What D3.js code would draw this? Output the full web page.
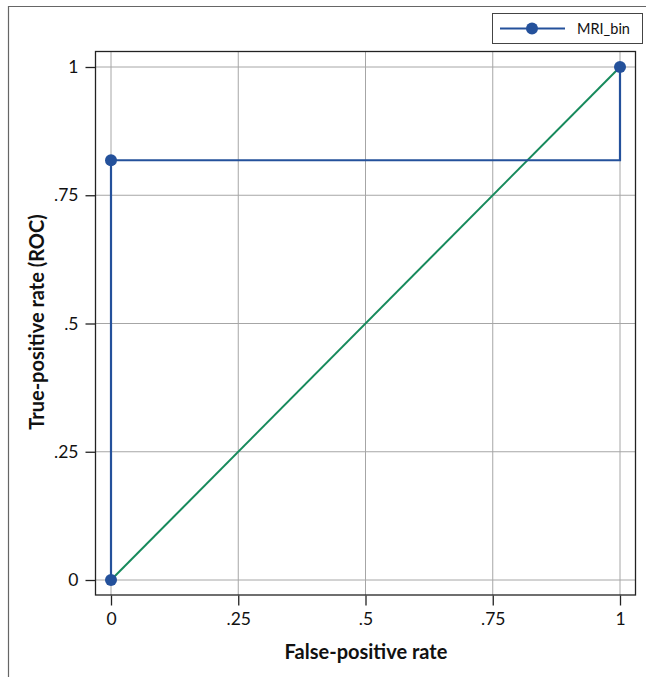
<!DOCTYPE html>
<html><head><meta charset="utf-8">
<script src="https://cdn.jsdelivr.net/npm/d3@7"></script>
<style>body{margin:0;background:#fff}svg{display:block;font-family:Lato,"Open Sans",sans-serif}</style>
</head><body>
<svg id="c" width="646" height="677"></svg>
<script>
const seriesName = "MRI_bin";
const rocX = [0, 0, 1, 1];
const rocY = [0, 0.8181818, 0.8181818, 1];
const markerX = [0, 0, 1];
const markerY = [0, 0.8181818, 1];
const refX = [0, 1];
const refY = [0, 1];
const xTicks = [0, 0.25, 0.5, 0.75, 1];
const yTicks = [0, 0.25, 0.5, 0.75, 1];
const tickLabels = ["0", ".25", ".5", ".75", "1"];

const blue = "#24519b", green = "#178a5c";
const svg = d3.select("#c");
// outer frame
svg.append("path").attr("d","M8.5,677 V6.5 H646").attr("fill","none").attr("stroke","#666").attr("stroke-width",1.2);

const x = d3.scaleLinear().domain([0,1]).range([111,620]);
const y = d3.scaleLinear().domain([0,1]).range([580,67]);

// grid
svg.append("g").selectAll("line").data(xTicks).join("line")
  .attr("x1",d=>x(d)).attr("x2",d=>x(d)).attr("y1",51).attr("y2",595)
  .attr("stroke","#a6a6a6").attr("stroke-width",1);
svg.append("g").selectAll("line").data(yTicks).join("line")
  .attr("y1",d=>y(d)).attr("y2",d=>y(d)).attr("x1",95).attr("x2",636)
  .attr("stroke","#a6a6a6").attr("stroke-width",1);

// plot region border
svg.append("rect").attr("x",95.5).attr("y",51.5).attr("width",540).attr("height",543.5)
  .attr("fill","none").attr("stroke","#222").attr("stroke-width",1.3);

// axes
const xAxis = svg.append("g").attr("transform","translate(0,595.5)")
  .call(d3.axisBottom(x).tickValues(xTicks).tickFormat((d,i)=>tickLabels[i]).tickSize(10).tickPadding(7));
const yAxis = svg.append("g").attr("transform","translate(95.5,0)")
  .call(d3.axisLeft(y).tickValues(yTicks).tickFormat((d,i)=>tickLabels[i]).tickSize(10).tickPadding(7));
[xAxis,yAxis].forEach(g=>{
  g.select(".domain").remove();
  g.selectAll(".tick line").attr("stroke","#222").attr("stroke-width",1.3);
  g.selectAll(".tick text").attr("font-size",17.5).attr("fill","#111").attr("font-family","Lato,'Open Sans',sans-serif");
});

// reference line
svg.append("path").datum(refX.map((v,i)=>[v,refY[i]]))
  .attr("d",d3.line().x(d=>x(d[0])).y(d=>y(d[1])))
  .attr("fill","none").attr("stroke",green).attr("stroke-width",2);

// ROC line
svg.append("path").datum(rocX.map((v,i)=>[v,rocY[i]]))
  .attr("d",d3.line().x(d=>x(d[0])).y(d=>y(d[1])))
  .attr("fill","none").attr("stroke",blue).attr("stroke-width",2.2);
svg.append("g").selectAll("circle").data(markerX.map((v,i)=>[v,markerY[i]])).join("circle")
  .attr("cx",d=>x(d[0])).attr("cy",d=>y(d[1])).attr("r",6).attr("fill",blue);

// titles
svg.append("text").attr("x",366).attr("y",659).attr("text-anchor","middle")
  .attr("font-size",20).attr("font-weight","bold").attr("fill","#111").text("False-positive rate");
svg.append("text").attr("transform","translate(44,322) rotate(-90)").attr("text-anchor","middle")
  .attr("font-size",20).attr("font-weight","bold").attr("fill","#111").text("True-positive rate (ROC)");

// legend
svg.append("rect").attr("x",492.5).attr("y",13.5).attr("width",150).attr("height",30)
  .attr("fill","#fff").attr("stroke","#444").attr("stroke-width",1);
svg.append("line").attr("x1",500).attr("x2",565).attr("y1",28.5).attr("y2",28.5).attr("stroke",blue).attr("stroke-width",2.2);
svg.append("circle").attr("cx",532).attr("cy",28.5).attr("r",6).attr("fill",blue);
svg.append("text").attr("x",577).attr("y",33.5).attr("font-size",14.5).attr("fill","#111").text(seriesName);
</script>
</body></html>
